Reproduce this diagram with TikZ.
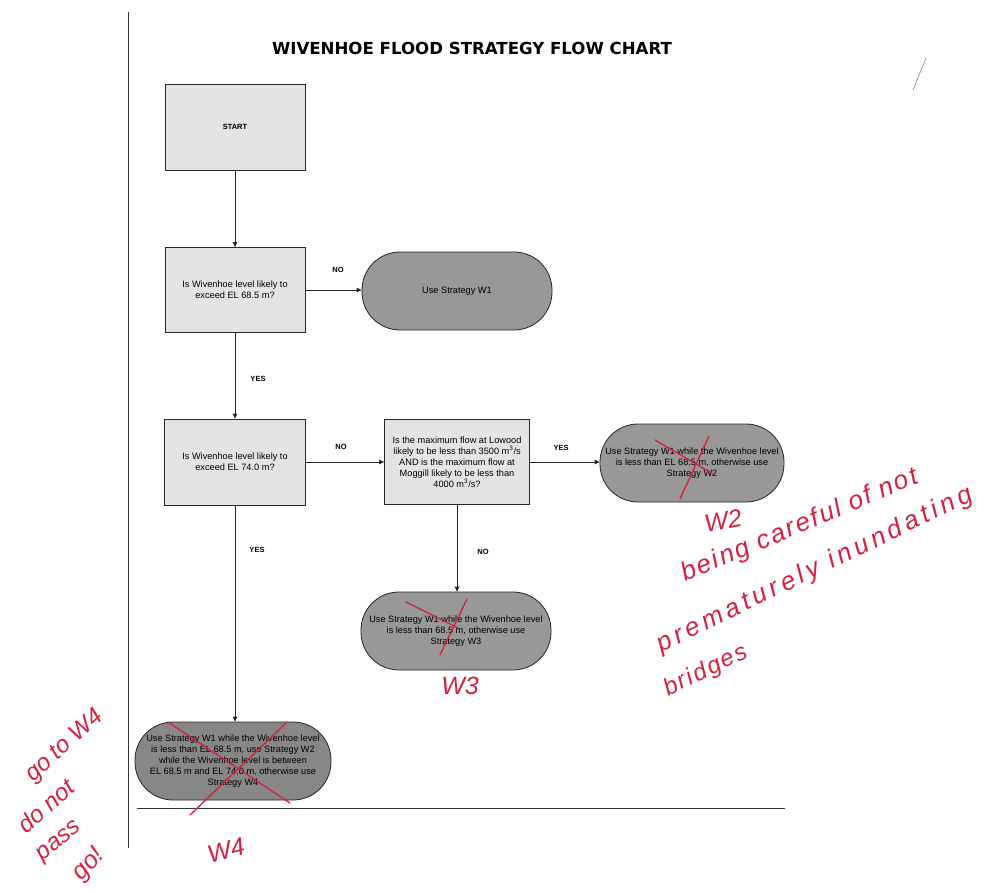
\documentclass[tikz,border=0pt]{standalone}
\usepackage{fontspec}
\setmainfont{Liberation Sans}
\newfontfamily\titlefont{DejaVu Sans}
\newfontfamily\handtight{Liberation Sans Italic}
\newfontfamily\hand{Liberation Sans Italic}[LetterSpace=8]
\newfontfamily\handwide{Liberation Sans Italic}[LetterSpace=16]
\usetikzlibrary{arrows.meta}
\definecolor{boxfill}{RGB}{228,228,228}
\definecolor{termfill}{RGB}{152,152,152}
\definecolor{termdark}{RGB}{135,135,135}
\definecolor{pen}{RGB}{214,32,62}
\tikzset{
  qbox/.style={draw=black!85, line width=0.8pt, fill=boxfill, rectangle, inner sep=0pt, align=center,
     font=\fontsize{9.2}{11}\selectfont},
  term/.style={draw=black!85, line width=0.8pt, fill=termfill, rectangle, rounded corners=38pt, inner sep=0pt, align=center,
     minimum width=190pt, minimum height=78pt, font=\fontsize{9.2}{11}\selectfont},
  conn/.style={draw=black!85, line width=0.8pt, -{Triangle[length=5pt,width=4.5pt]}},
  lab/.style={font=\bfseries\fontsize{7.5}{9}\selectfont},
  xmark/.style={draw=pen, line width=1.3pt, line cap=round},
  ink/.style={text=pen, inner sep=0pt},
}
\begin{document}
\begin{tikzpicture}[x=1pt,y=-1pt]
\fill[white] (0,0) rectangle (985,892);
\useasboundingbox (0,0) rectangle (985,892);

% frame lines
\draw[line width=1pt, black!80] (128,12) -- (128,848);
\draw[line width=1pt, black!80] (137,808) -- (785,808);
\draw[gray, line width=0.6pt] (913,90) -- (926,58);

% title
\node (title) at (472,48) {\titlefont\bfseries\fontsize{16.6}{19}\selectfont WIVENHOE FLOOD STRATEGY FLOW CHART};

% boxes
\node[qbox, minimum width=140pt, minimum height=86pt] (start) at (235,127) {\bfseries\fontsize{7.5}{9}\selectfont START};
\node[qbox, minimum width=140pt, minimum height=85pt] (q1) at (235,290) {Is Wivenhoe level likely to\\exceed EL 68.5 m?};
\node[qbox, minimum width=141pt, minimum height=86pt] (q2) at (235,462) {Is Wivenhoe level likely to\\exceed EL 74.0 m?};
\node[qbox, minimum width=145pt, minimum height=85pt] (q3) at (457,462) {Is the maximum flow at Lowood\\likely to be less than 3500 m\textsuperscript{3}/s\\AND is the maximum flow at\\Moggill likely to be less than\\4000 m\textsuperscript{3}/s?};

\node[term] (w1) at (457,291) {Use Strategy W1};
\node[term, minimum width=184pt] (w2) at (692,463) {Use Strategy W1 while the Wivenhoe level\\is less than EL 68.5 m, otherwise use\\Strategy W2};
\node[term] (w3) at (456,631) {Use Strategy W1 while the Wivenhoe level\\is less than 68.5 m, otherwise use\\Strategy W3};
\node[term, fill=termdark, minimum width=196pt] (w4) at (233,761) {Use Strategy W1 while the Wivenhoe level\\is less than EL 68.5 m, use Strategy W2\\while the Wivenhoe level is between\\EL 68.5 m and EL 74.0 m, otherwise use\\Strategy W4};

% connectors
\draw[conn] (start.south) -- (start.south |- q1.north);
\draw[conn] (q1.east) -- (q1.east -| w1.west);
\draw[conn] (q1.south) -- (q1.south |- q2.north);
\draw[conn] (q2.east) -- (q2.east -| q3.west);
\draw[conn] (q3.east) -- (q3.east -| w2.west);
\draw[conn] (q3.south) -- (q3.south |- w3.north);
\draw[conn] (q2.south) -- (q2.south |- w4.north);

% labels
\node[lab] (l1) at (338,270) {NO};
\node[lab] (l2) at (258,379) {YES};
\node[lab] (l3) at (341,447) {NO};
\node[lab] (l4) at (561,448) {YES};
\node[lab] (l5) at (483,552) {NO};
\node[lab] (l6) at (257,550) {YES};

% red crosses
\draw[xmark] (655,440) -- (713,474);
\draw[xmark] (709,436) -- (680,499);
\draw[xmark] (406,602) -- (458,628);
\draw[xmark] (467,599) -- (440,655);
\draw[xmark] (168,722) -- (290,803);
\draw[xmark] (287,722) -- (190,815);

% handwriting
\node[ink, rotate=10, font=\handtight\fontsize{25}{27}\selectfont] (hw2) at (723,521) {W2};
\node[ink, rotate=23, font=\hand\fontsize{26}{28}\selectfont] (hcare) at (800,526) {being careful of not};
\node[ink, rotate=26, font=\handwide\fontsize{26}{28}\selectfont] (hprem) at (815,570) {prematurely inundating};
\node[ink, rotate=26, font=\hand\fontsize{24}{26}\selectfont] (hbrid) at (706,671) {bridges};
\node[ink, font=\handtight\fontsize{25}{27}\selectfont] (hw3) at (460,686) {W3};
\node[ink, rotate=15, font=\handtight\fontsize{25}{27}\selectfont] (hw4) at (226,850) {W4};
\node[ink, rotate=42, font=\handtight\fontsize{24}{26}\selectfont] (hgo) at (65,746) {go to W4};
\node[ink, rotate=41, font=\handtight\fontsize{24}{26}\selectfont] (hdo) at (46,806) {do not};
\node[ink, rotate=39, font=\handtight\fontsize{24}{26}\selectfont] (hpass) at (60,842) {pass};
\node[ink, rotate=47, font=\handtight\fontsize{25}{27}\selectfont] (hgo2) at (89,865) {go!};
\end{tikzpicture}
\end{document}
